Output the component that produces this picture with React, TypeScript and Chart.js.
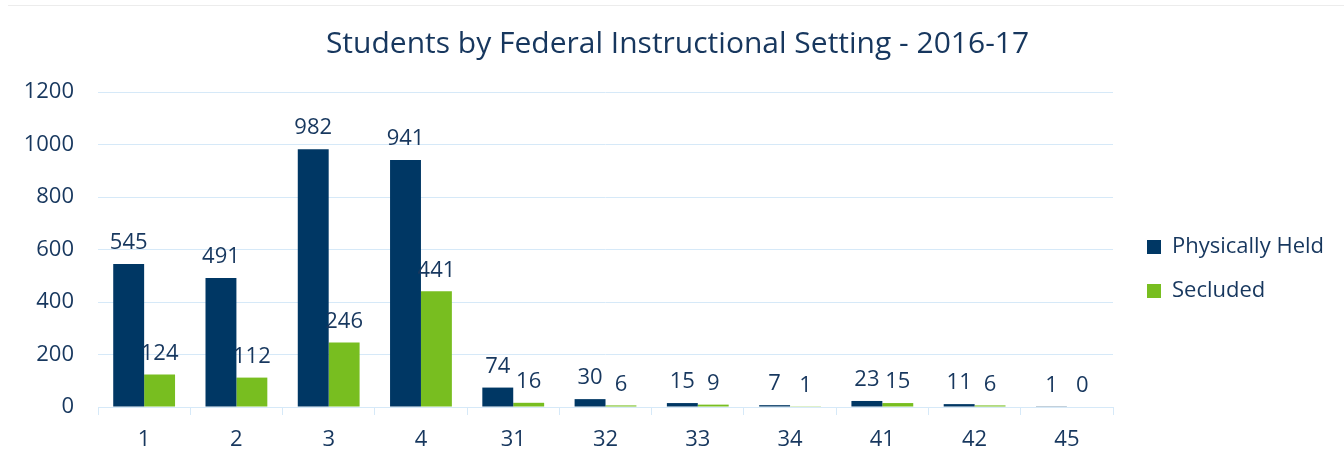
import React, { useEffect, useRef } from "react";
import { Chart, registerables } from "chart.js";

Chart.register(...registerables);

const categories = ["1", "2", "3", "4", "31", "32", "33", "34", "41", "42", "45"];
const physicallyHeld = [545, 491, 982, 941, 74, 30, 15, 7, 23, 11, 1];
const secluded = [124, 112, 246, 441, 16, 6, 9, 1, 15, 6, 0];
const yMin = 0;
const yMax = 1200;
const yStep = 200;
const title = "Students by Federal Instructional Setting - 2016-17";

const TEXT = "#17375E";
const NAVY = "#003764";
const GREEN = "#78BE20";
const GRID = "#D6E9F8";
const FONT = "'Open Sans', sans-serif";

const valueLabels = {
  id: "valueLabels",
  afterDatasetsDraw(chart: any) {
    const ctx = chart.ctx;
    ctx.save();
    ctx.font = `22px ${FONT}`;
    ctx.fillStyle = TEXT;
    ctx.textAlign = "center";
    ctx.textBaseline = "bottom";
    chart.data.datasets.forEach((ds: any, di: number) => {
      const meta = chart.getDatasetMeta(di);
      meta.data.forEach((bar: any, i: number) => {
        ctx.fillText(String(ds.data[i]), bar.x, bar.y - 10);
      });
    });
    ctx.restore();
  },
};

export default function App() {
  const ref = useRef<HTMLCanvasElement | null>(null);
  useEffect(() => {
    if (!ref.current) return;
    const chart = new Chart(ref.current, {
      type: "bar",
      data: {
        labels: categories,
        datasets: [
          { label: "Physically Held", data: physicallyHeld, backgroundColor: NAVY, barPercentage: 1, categoryPercentage: 0.67 },
          { label: "Secluded", data: secluded, backgroundColor: GREEN, barPercentage: 1, categoryPercentage: 0.67 },
        ],
      },
      options: {
        responsive: false,
        animation: false,
        layout: { padding: { left: 21, right: 10, top: 0, bottom: 0 } },
        plugins: {
          title: {
            display: true,
            text: title,
            color: TEXT,
            font: { family: FONT, size: 30, weight: "normal" },
            padding: { top: 26, bottom: 30 },
          },
          legend: {
            position: "right",
            align: "center",
            title: {
              display: true,
              text: " ",
              font: { size: 10, lineHeight: 1 },
              padding: { top: 32, bottom: 32 },
            },
            labels: {
              color: TEXT,
              font: { family: FONT, size: 22 },
              boxWidth: 14,
              boxHeight: 14,
              padding: 22,
            },
          },
          tooltip: { enabled: false },
        },
        scales: {
          x: {
            grid: { display: true, drawOnChartArea: false, color: GRID, tickLength: 8, offset: true },
            border: { display: true, color: GRID },
            ticks: { color: TEXT, font: { family: FONT, size: 22 }, padding: 12 },
            afterFit: (s: any) => {
              s.height = 57;
            },
          },
          y: {
            min: yMin,
            max: yMax,
            ticks: {
              stepSize: yStep,
              color: TEXT,
              font: { family: FONT, size: 22 },
              padding: 24,
              callback: (v: any) => String(v),
            },
            grid: { color: GRID, drawTicks: false },
            border: { display: false },
            afterFit: (s: any) => {
              s.width = 77;
            },
          },
          spacer: {
            type: "linear",
            position: "right",
            display: true,
            grid: { display: false },
            border: { display: false },
            ticks: { display: false },
            afterFit: (s: any) => {
              s.width = 12;
            },
          },
        },
      },
      plugins: [valueLabels],
    } as any);
    return () => chart.destroy();
  }, []);
  return (
    <div style={{ position: "fixed", left: 0, top: 0, width: 1344, height: 464, background: "#fff" }}>
      <div style={{ position: "absolute", left: 8, right: 0, top: 5, height: 0, borderTop: "1px solid #ECECEC" }} />
      <canvas ref={ref} width={1344} height={464} style={{ position: "absolute", left: 0, top: 0 }} />
    </div>
  );
}
